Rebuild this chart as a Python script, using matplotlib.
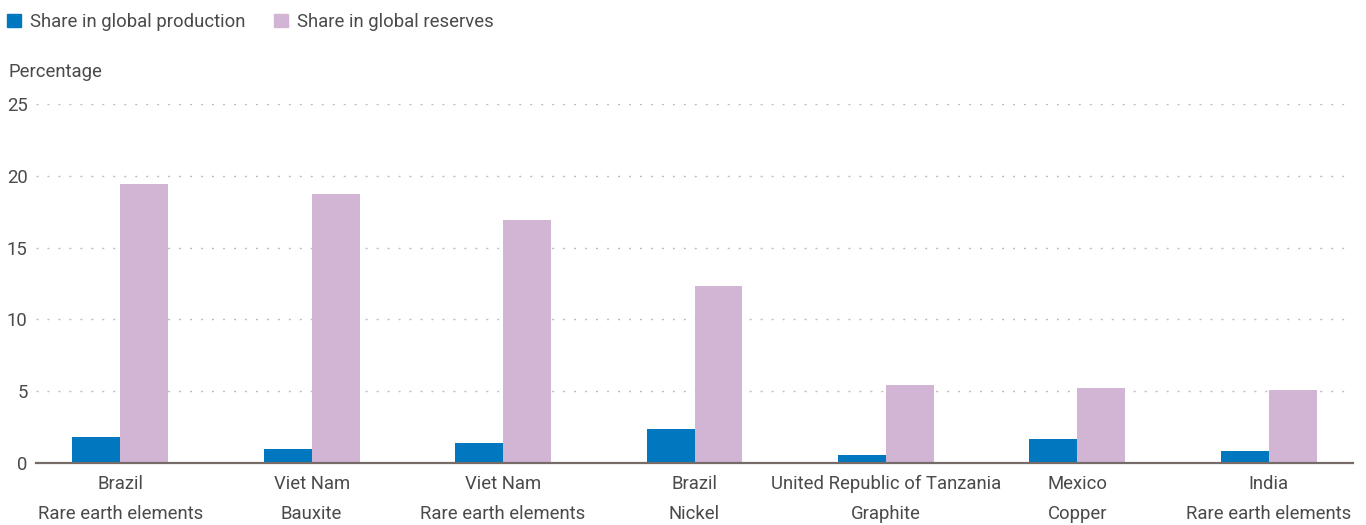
import numpy as np
import matplotlib
matplotlib.use("Agg")
import matplotlib.pyplot as plt
from matplotlib.patches import Patch

plt.rcParams['font.family'] = ['Roboto', 'DejaVu Sans']

# DATA
countries = ['Brazil', 'Viet Nam', 'Viet Nam', 'Brazil',
             'United Republic of Tanzania', 'Mexico', 'India']
minerals = ['Rare earth elements', 'Bauxite', 'Rare earth elements', 'Nickel',
            'Graphite', 'Copper', 'Rare earth elements']
production = [1.8, 1.0, 1.4, 2.4, 0.55, 1.7, 0.85]
reserves = [19.4, 18.7, 16.9, 12.3, 5.4, 5.2, 5.1]
yticks = [0, 5, 10, 15, 20, 25]

BLUE = '#0077BE'
PINK = '#D2B4D4'
TEXT = '#4A4A4A'
WEIGHT = 'normal'
FS = 13.3
W = 0.25

fig = plt.figure(figsize=(13.66, 5.25), dpi=100)
ax = fig.add_axes([36/1366, 62/525, (1353-36)/1366, (463-104)/525])

x = np.arange(len(countries))
ax.bar(x - W/2, production, W, color=BLUE, zorder=3)
ax.bar(x + W/2, reserves, W, color=PINK, zorder=3)

ax.set_xlim(-0.44, len(countries) - 0.56)
ax.set_ylim(0, 25)
ax.set_yticks(yticks)
ax.set_yticklabels([str(t) for t in yticks], fontsize=FS, color=TEXT, fontweight=WEIGHT)
ax.set_xticks(x)
ax.set_xticklabels([f'{c}\n{m}' for c, m in zip(countries, minerals)],
                   fontsize=FS, color=TEXT, linespacing=1.85, fontweight=WEIGHT)
ax.tick_params(axis='both', length=0)
ax.tick_params(axis='y', pad=6)
ax.tick_params(axis='x', pad=8.5)

for s in ['top', 'right', 'left']:
    ax.spines[s].set_visible(False)
ax.spines['bottom'].set_color('#766B67')
ax.spines['bottom'].set_linewidth(1.6)
ax.spines['bottom'].set_zorder(4)

ax.yaxis.grid(True, color='#BBBBBB', linewidth=1.0, linestyle=(0, (1.4, 6.5)), zorder=0)
ax.xaxis.grid(False)

fig.text(8/1366, 1 - 72/525, 'Percentage', fontsize=FS, color=TEXT,
         va='center', ha='left', fontweight=WEIGHT)

handles = [Patch(color=BLUE, label='Share in global production'),
           Patch(color=PINK, label='Share in global reserves')]
fig.legend(handles=handles, loc='upper left', bbox_to_anchor=(-0.0045, 1.0), ncol=2,
           frameon=False, handlelength=0.75, handleheight=0.75,
           handletextpad=0.5, columnspacing=1.55, borderaxespad=0.3,
           labelcolor=TEXT, prop={'weight': WEIGHT, 'size': FS})

fig.savefig('out.png', dpi=100)
